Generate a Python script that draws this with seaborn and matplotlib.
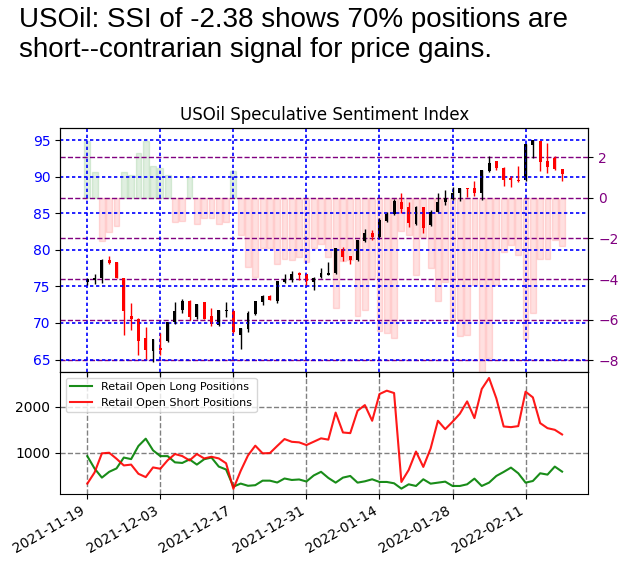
import numpy as np
import pandas as pd
import matplotlib
matplotlib.use('Agg')
import matplotlib.pyplot as plt
import seaborn as sns

# USOil daily candles, SSI and retail positions
opens = [75.65, 75.9, 76.1, 78.55, 78.3, 76.1, 71.0, 70.6, 67.9, 66.15,
         66.6, 67.6, 70.2, 71.75, 73.05, 70.85, 72.8, 70.9, 69.75, 71.6,
         71.7, 68.35, 69.2, 71.25, 72.8, 73.7, 73.0, 75.65, 75.9, 76.85,
         76.7, 75.65, 76.25, 76.6, 76.8, 80.1, 79.15, 78.6, 81.2, 82.3,
         81.7, 83.95, 84.85, 86.5, 85.8, 83.55, 85.8, 83.4, 85.2, 86.55,
         86.9, 87.75, 88.45, 88.4, 87.75, 90.8, 92.1, 91.15, 89.8, 89.6,
         89.55, 94.35, 94.8, 92.1, 92.55, 91.0]
highs = [76.1, 76.7, 78.7, 79.15, 78.4, 76.1, 72.7, 70.7, 69.4, 67.8,
         68.7, 70.2, 72.8, 73.25, 73.1, 72.6, 72.8, 72.0, 71.8, 72.8,
         71.8, 69.3, 71.6, 73.0, 73.8, 73.8, 75.8, 76.7, 77.1, 77.0,
         76.7, 76.3, 77.5, 78.4, 80.3, 80.4, 79.2, 81.4, 82.8, 82.7,
         84.4, 85.1, 86.95, 87.75, 86.5, 85.95, 85.85, 85.4, 87.8, 88.2,
         88.6, 88.4, 88.5, 89.4, 90.9, 92.75, 92.2, 91.3, 90.1, 91.5,
         94.5, 95.05, 94.8, 94.6, 92.75, 91.05]
lows = [75.2, 75.3, 75.4, 78.0, 76.2, 68.3, 69.0, 65.6, 65.1, 64.7,
        65.6, 67.4, 69.9, 71.3, 70.4, 70.6, 70.5, 69.6, 69.6, 70.85,
        68.7, 66.4, 68.8, 71.1, 72.4, 73.1, 72.7, 75.5, 75.6, 75.9,
        75.2, 74.5, 76.1, 76.5, 76.7, 78.5, 78.1, 78.5, 81.0, 81.4,
        81.6, 83.8, 84.75, 85.0, 83.1, 83.45, 82.35, 83.2, 85.1, 86.1,
        86.8, 86.7, 87.15, 87.3, 86.8, 90.7, 90.9, 88.75, 88.65, 89.3,
        89.35, 92.6, 90.8, 90.5, 90.9, 89.35]
closes = [75.95, 76.2, 78.55, 78.15, 76.2, 71.6, 70.5, 67.5, 66.3, 67.75,
          66.3, 70.15, 71.7, 73.05, 70.85, 72.6, 70.6, 69.8, 71.75, 71.8,
          68.8, 69.25, 71.4, 73.0, 73.7, 73.2, 75.8, 75.95, 76.7, 76.5,
          75.75, 76.2, 76.8, 76.8, 80.2, 79.0, 78.6, 81.3, 82.35, 81.7,
          84.1, 84.85, 86.7, 85.55, 83.65, 85.8, 82.95, 85.1, 86.5, 87.05,
          87.8, 88.4, 88.3, 87.75, 90.85, 91.85, 91.15, 89.55, 89.5, 89.4,
          94.45, 95.0, 91.95, 91.35, 91.05, 90.4]
ssi = [2.82, 1.28, -2.14, -1.69, -1.37, 1.28, 1.15, 2.21, 2.82, 1.56,
       1.47, 1.11, -1.2, -1.15, 1.03, -1.31, -1.01, -1.01, -1.27, -1.18,
       1.33, -1.85, -3.42, -3.92, -2.48, -2.47, -3.28, -3.0, -3.05, -2.93,
       -3.15, -2.45, -2.25, -2.93, -5.44, -3.1, -3.05, -5.84, -5.5, -3.98,
       -6.58, -6.66, -6.92, -1.62, -1.82, -3.81, -1.95, -3.47, -5.08, -4.12,
       -6.05, -6.82, -6.77, -4.3, -8.9, -7.89, -4.3, -2.67, -2.3, -2.82,
       -6.93, -5.69, -2.99, -2.99, -2.08, -2.38]
long_pos = [930, 660, 464, 590, 663, 899, 865, 1150, 1308, 1055,
            930, 930, 795, 782, 858, 746, 862, 899, 703, 640,
            268, 335, 287, 300, 398, 398, 358, 445, 413, 424,
            380, 511, 590, 457, 355, 464, 500, 355, 384, 428,
            370, 370, 341, 225, 319, 283, 428, 333, 355, 377,
            283, 283, 319, 442, 283, 355, 500, 587, 681, 558,
            355, 391, 558, 529, 703, 594]
short_pos = [333, 576, 990, 1003, 873, 728, 746, 547, 475, 685,
             656, 840, 975, 931, 837, 975, 880, 916, 880, 775,
             221, 610, 945, 1156, 990, 996, 1150, 1300, 1240, 1228,
             1170, 1242, 1315, 1287, 1873, 1442, 1428, 1913, 2036, 1696,
             2275, 2348, 2297, 370, 630, 1029, 696, 1094, 1696, 1514,
             1674, 1848, 2116, 1754, 2384, 2623, 2181, 1572, 1558, 1580,
             2326, 2203, 1645, 1536, 1500, 1399]

dates = pd.bdate_range('2021-11-19', periods=len(closes))
tick_idx = list(range(0, len(closes), 10))
tick_labels = [dates[i].strftime('%Y-%m-%d') for i in tick_idx]

headline = ('USOil: SSI of -2.38 shows 70% positions are\n'
            'short--contrarian signal for price gains.')

df = pd.DataFrame({'idx': np.arange(len(closes)), 'open': opens, 'high': highs,
                   'low': lows, 'close': closes, 'ssi': ssi,
                   'long': long_pos, 'short': short_pos})

fig = plt.figure(figsize=(6.28, 5.66), dpi=100)
ax = fig.add_axes([0.0955, 0.3422, 0.8413, 0.4316])
ax2 = ax.twinx()
ax3 = fig.add_axes([0.0955, 0.1277, 0.8413, 0.2145], sharex=ax)

# SSI bars on the right axis, behind the candles
bar_colors = np.where(df['ssi'] >= 0, 'green', 'red')
ax2.bar(df['idx'], df['ssi'], width=0.8, color=bar_colors, edgecolor=bar_colors,
        alpha=0.12, linewidth=1)
ax2.set_ylim(-8.59, 3.44)
ax2.set_yticks([-8, -6, -4, -2, 0, 2])
ax2.tick_params(axis='y', labelcolor='purple')
ax2.grid(True, axis='y', color='purple', linestyle='--', linewidth=1)

ax.set_zorder(ax2.get_zorder() + 1)
ax.patch.set_visible(False)

# candles
up = df['close'] >= df['open']
candle_colors = np.where(up, 'black', 'red')
ax.vlines(df['idx'], df['low'], df['high'], colors=candle_colors, linewidth=1)
body_low = np.minimum(df['open'], df['close'])
body_h = np.maximum((df['close'] - df['open']).abs(), 0.08)
ax.bar(df['idx'], body_h, bottom=body_low, width=0.4, color=candle_colors)
ax.set_ylim(63.26, 96.64)
ax.set_yticks([65, 70, 75, 80, 85, 90, 95])
ax.tick_params(axis='y', labelcolor='blue')
ax.grid(True, color='blue', linestyle=(0, (2, 1.6)), linewidth=1.2)
ax.tick_params(axis='x', labelbottom=False)
ax.set_title('USOil Speculative Sentiment Index', fontsize=12)

# retail positions
sns.lineplot(data=df, x='idx', y='long', color='green', alpha=0.9, linewidth=1.5,
             label='Retail Open Long Positions', ax=ax3)
sns.lineplot(data=df, x='idx', y='short', color='red', alpha=0.9, linewidth=1.5,
             label='Retail Open Short Positions', ax=ax3)
ax3.set_ylim(115, 2746)
ax3.set_yticks([1000, 2000])
ax3.set_xlabel('')
ax3.set_ylabel('')
ax3.grid(True, color='gray', linestyle='--', linewidth=1)
ax3.legend(loc='upper left', fontsize=8)
ax3.set_xlim(-3.74, 68.59)
ax3.set_xticks(tick_idx)
ax3.set_xticklabels(tick_labels, rotation=30, ha='right')

fig.text(0.03, 0.988, headline, fontsize=20, family='Liberation Sans',
         ha='left', va='top')

fig.savefig('out.png', dpi=100)
